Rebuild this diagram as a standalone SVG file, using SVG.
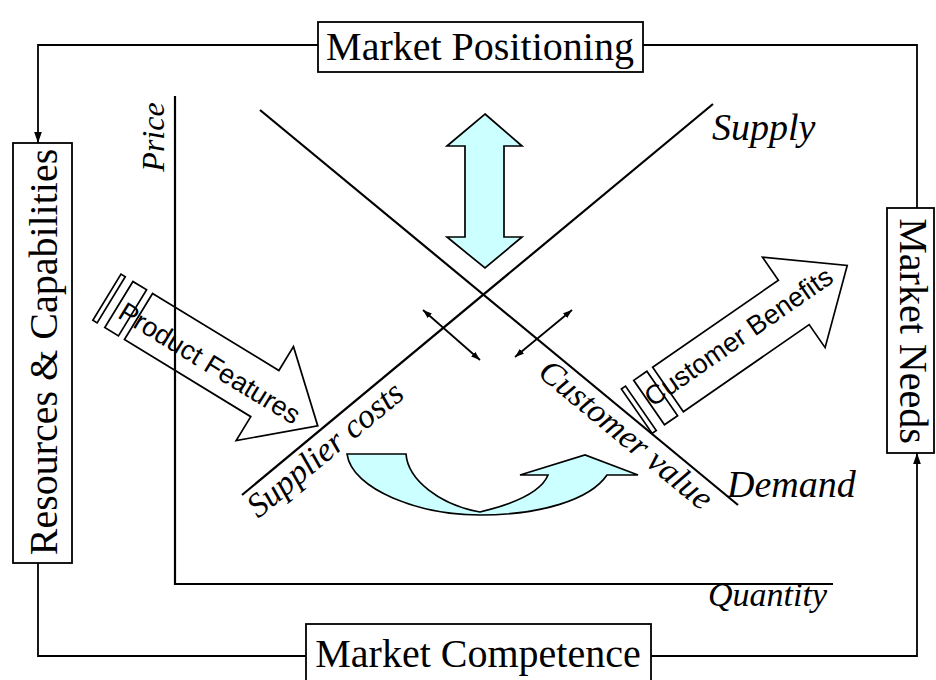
<svg xmlns="http://www.w3.org/2000/svg" width="936" height="680" viewBox="0 0 936 680">
<defs>
<marker id="ah" viewBox="0 0 10 10" refX="10" refY="5" markerWidth="11" markerHeight="11" markerUnits="userSpaceOnUse" orient="auto-start-reverse"><path d="M0,1.5 L10,5 L0,8.5 z" fill="#000"/></marker>
<marker id="sh" viewBox="0 0 10 10" refX="10" refY="5" markerWidth="9" markerHeight="9" markerUnits="userSpaceOnUse" orient="auto-start-reverse"><path d="M0,1.5 L10,5 L0,8.5 z" fill="#000"/></marker>
</defs>
<style>
.box{fill:#fff;stroke:#000;stroke-width:1.8}
.lbl{font-family:"Liberation Serif","Times New Roman",serif;font-size:40px;fill:#000}
.it{font-family:"Liberation Serif","Times New Roman",serif;font-style:italic;fill:#000}
.sans{font-family:"Liberation Sans",Arial,sans-serif;font-size:27px;fill:#000}
.ln{stroke:#000;stroke-width:1.8;fill:none}
.blk{fill:none;stroke:#000;stroke-width:1.7;stroke-linejoin:miter}
.cy{fill:#CCFFFF;stroke:#000;stroke-width:1.7;stroke-linejoin:miter}
</style>
<rect width="936" height="680" fill="#fff"/>

<g id="connectors">
<path class="ln" d="M318,45 H38 V143" marker-end="url(#ah)"/>
<path class="ln" d="M643,45 H917 V208"/>
<path class="ln" d="M38,563 V656 H306"/>
<path class="ln" d="M651,656 H917 V453" marker-end="url(#ah)"/>
</g>

<g id="axes">
<path class="ln" d="M175,96 V584 H833" style="stroke-width:2.2"/>
<text class="it" font-size="32" transform="translate(164,137) rotate(-90)" text-anchor="middle">Price</text>
<text class="it" font-size="34" x="708" y="606">Quantity</text>
</g>

<g id="curves">
<line class="ln" x1="242" y1="495" x2="713" y2="104" style="stroke-width:2.2"/>
<line class="ln" x1="260" y1="110" x2="738" y2="505" style="stroke-width:2.2"/>
<text class="it" font-size="38" x="712" y="140">Supply</text>
<text class="it" font-size="38" x="727" y="497">Demand</text>
<text class="it" font-size="34" text-anchor="middle" transform="translate(332,458) rotate(-39.6)">Supplier costs</text>
<text class="it" font-size="34" text-anchor="middle" transform="translate(619,443) rotate(39.6)">Customer value</text>
<line class="ln" x1="423" y1="310" x2="480" y2="360" marker-start="url(#sh)" marker-end="url(#sh)"/>
<line class="ln" x1="572" y1="310" x2="515" y2="357" marker-start="url(#sh)" marker-end="url(#sh)"/>
</g>

<g id="positioning-arrow">
<polygon class="cy" points="485,114 522,146 504,146 504,237 522,237 485,268 447,237 465,237 465,146 447,146"/>
</g>

<g id="exchange-arrow">
<path class="cy" d="M347,454 L406,454 C408,480 440,505 480,512 C505,506 540,495 548,475 L520,475 L585,455 L638,475 L607,475 C590,500 540,515 480,515 C420,515 352,490 347,454 Z"/>
</g>

<g id="product-features" transform="translate(138.5,316.5) rotate(31.4)">
<rect class="blk" x="-37" y="-27" width="5" height="54"/>
<rect class="blk" x="-23" y="-27" width="16" height="54"/>
<polygon class="blk" points="0,-27 148,-27 148,-55 210,0 148,55 148,27 0,27"/>
<text class="sans" x="85" y="12" text-anchor="middle">Product Features</text>
</g>

<g id="customer-benefits" transform="translate(668,389.5) rotate(-34.7)">
<rect class="blk" x="-38" y="-27" width="5" height="54"/>
<rect class="blk" x="-23" y="-27" width="16" height="54"/>
<polygon class="blk" points="0,-27 153,-27 153,-55 218,0 153,55 153,27 0,27"/>
<text class="sans" x="88" y="6" text-anchor="middle">Customer Benefits</text>
</g>

<g id="market-positioning">
<rect class="box" x="318" y="22" width="325" height="50"/>
<text class="lbl" x="480" y="60" text-anchor="middle">Market Positioning</text>
</g>

<g id="resources-capabilities">
<rect class="box" x="13" y="143" width="59" height="420"/>
<text class="lbl" text-anchor="middle" transform="translate(57,352) rotate(-90)">Resources &amp; Capabilities</text>
</g>

<g id="market-needs">
<rect class="box" x="887" y="208" width="47" height="245"/>
<text class="lbl" text-anchor="middle" transform="translate(900,331) rotate(90)">Market Needs</text>
</g>

<g id="market-competence">
<rect class="box" x="306" y="624" width="345" height="70"/>
<text class="lbl" x="478" y="667" text-anchor="middle">Market Competence</text>
</g>
</svg>
